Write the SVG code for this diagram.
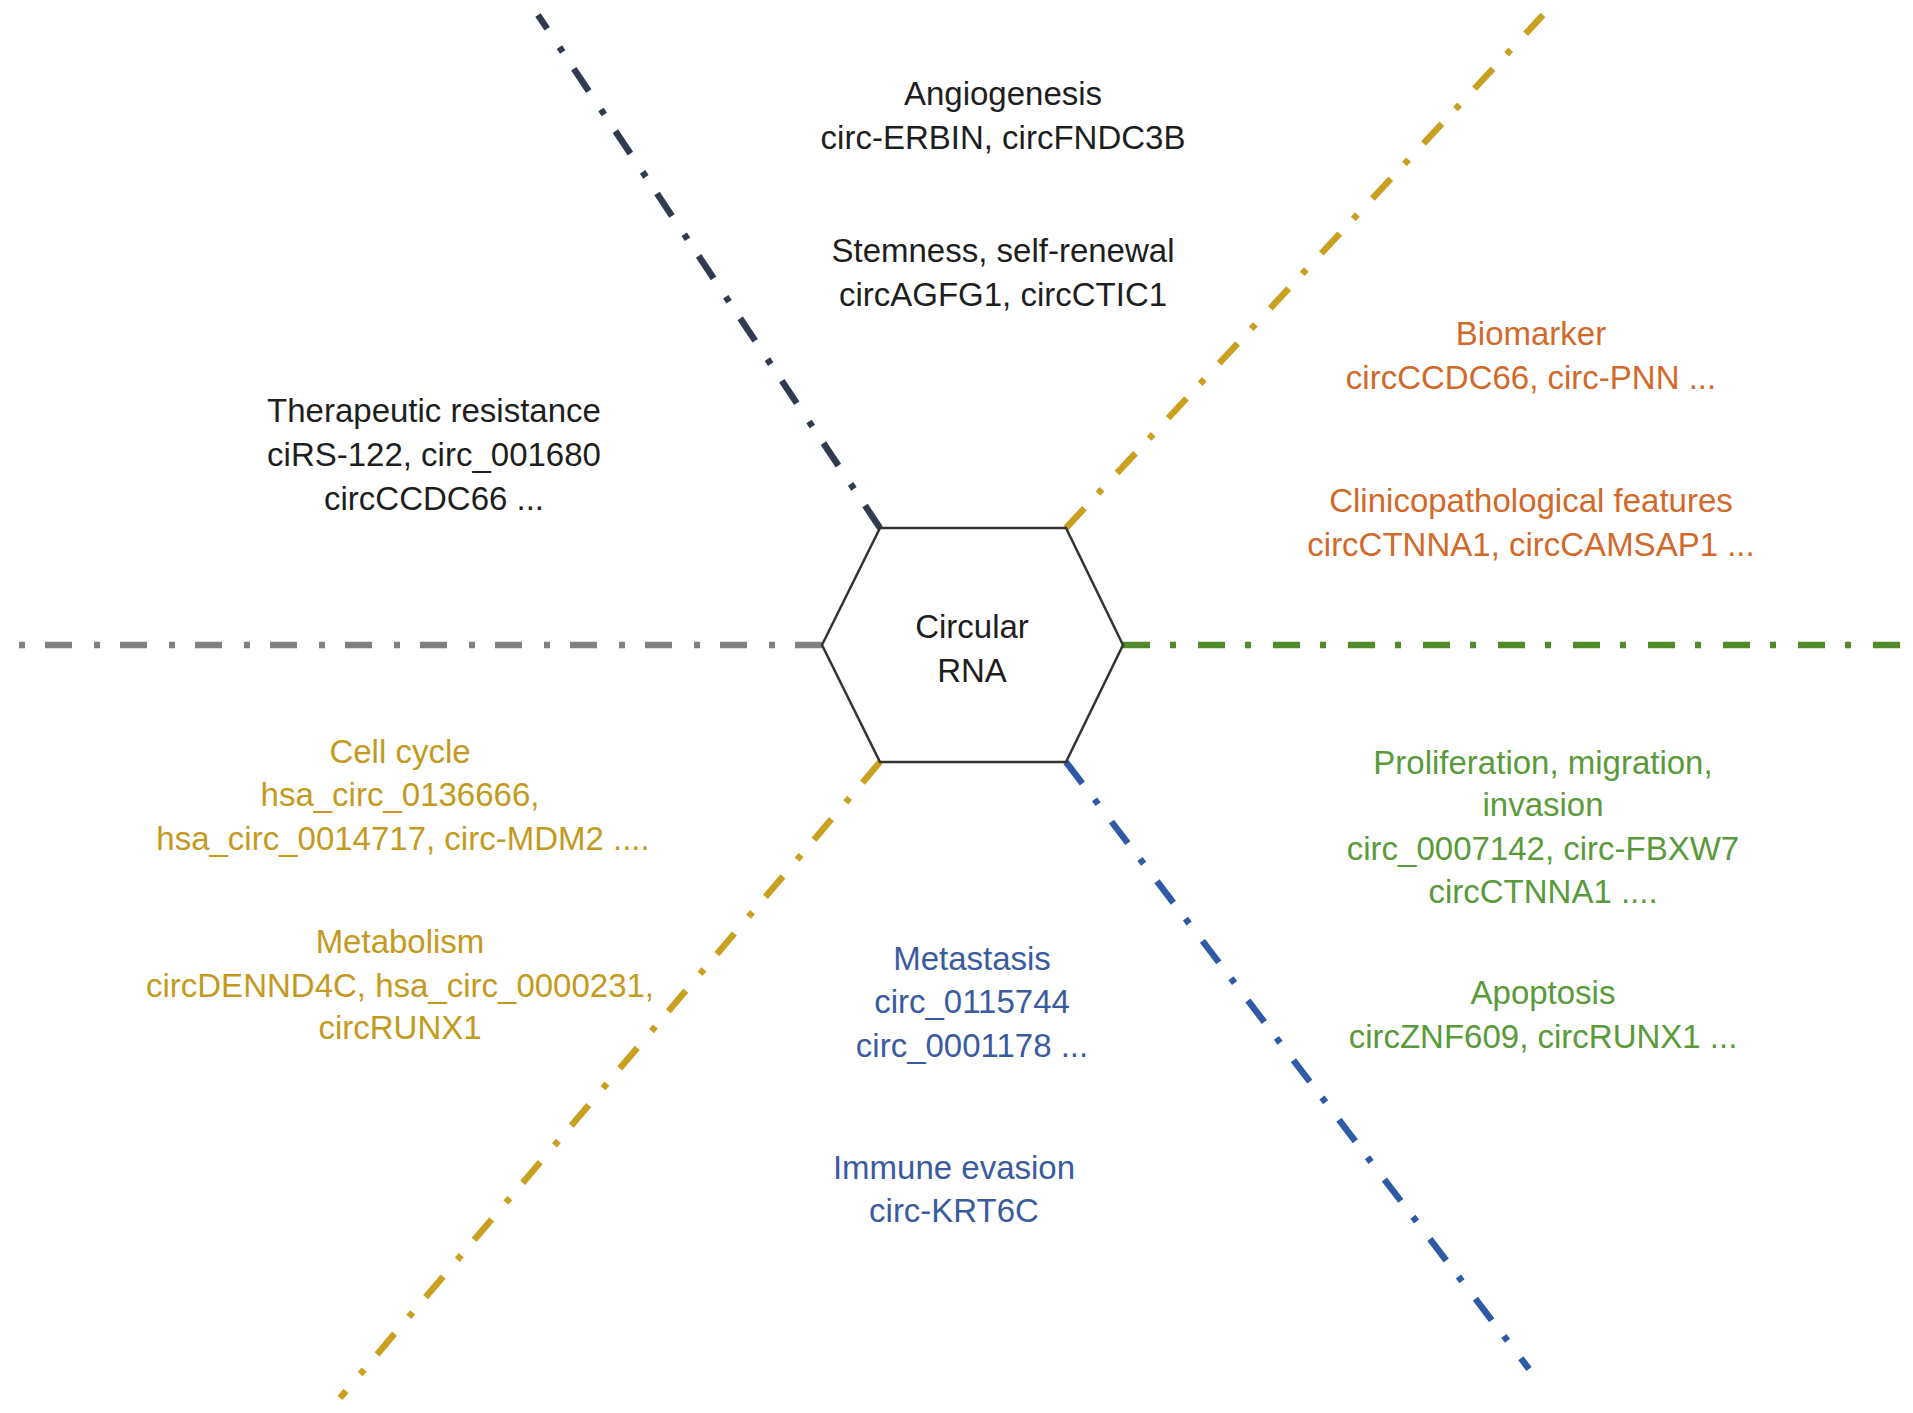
<svg xmlns="http://www.w3.org/2000/svg" width="1913" height="1413" viewBox="0 0 1913 1413">
<style>
.t{font-family:"Liberation Sans",Arial,Helvetica,sans-serif;font-size:33px;text-anchor:middle}
.k{fill:#1e1e1e}.o{fill:#d2692a}.g{fill:#c49a1e}.b{fill:#3a5ba0}.gr{fill:#5a9a3a}
.ln{fill:none;stroke-width:6.5;stroke-dasharray:27 20 6 22}
</style>
<rect width="1913" height="1413" fill="#ffffff"/>
<g id="connectors">
<line class="ln" x1="880" y1="528" x2="538" y2="15" stroke="#2f3b50"/>
<line class="ln" x1="1066" y1="528" x2="1543" y2="15" stroke="#c9a020"/>
<line class="ln" x1="822" y1="645" x2="10" y2="645" stroke="#808080"/>
<line class="ln" x1="1123" y1="645" x2="1903" y2="645" stroke="#4f8a2b"/>
<line class="ln" x1="880" y1="762" x2="340" y2="1398" stroke="#c9a020"/>
<line class="ln" x1="1066" y1="762" x2="1529" y2="1369" stroke="#2f5aa5"/>
</g>
<g id="center">
<polygon points="822,645 880,528 1066,528 1123,645 1066,762 880,762" fill="#ffffff" stroke="#333333" stroke-width="2.5"/>
<text class="t k" x="972" y="638">Circular</text>
<text class="t k" x="972" y="682">RNA</text>
</g>
<g id="angiogenesis">
<text class="t k" x="1003" y="105">Angiogenesis</text>
<text class="t k" x="1003" y="149">circ-ERBIN, circFNDC3B</text>
</g>
<g id="stemness">
<text class="t k" x="1003" y="262">Stemness, self-renewal</text>
<text class="t k" x="1003" y="306">circAGFG1, circCTIC1</text>
</g>
<g id="biomarker">
<text class="t o" x="1531" y="345">Biomarker</text>
<text class="t o" x="1531" y="389">circCCDC66, circ-PNN ...</text>
</g>
<g id="clinicopathological">
<text class="t o" x="1531" y="512">Clinicopathological features</text>
<text class="t o" x="1531" y="556">circCTNNA1, circCAMSAP1 ...</text>
</g>
<g id="therapeutic">
<text class="t k" x="434" y="422">Therapeutic resistance</text>
<text class="t k" x="434" y="466">ciRS-122, circ_001680</text>
<text class="t k" x="434" y="510">circCCDC66 ...</text>
</g>
<g id="cellcycle">
<text class="t g" x="400" y="763">Cell cycle</text>
<text class="t g" x="400" y="806">hsa_circ_0136666,</text>
<text class="t g" x="403" y="850">hsa_circ_0014717, circ-MDM2 ....</text>
</g>
<g id="metabolism">
<text class="t g" x="400" y="953">Metabolism</text>
<text class="t g" x="400" y="997">circDENND4C, hsa_circ_0000231,</text>
<text class="t g" x="400" y="1039">circRUNX1</text>
</g>
<g id="metastasis">
<text class="t b" x="972" y="970">Metastasis</text>
<text class="t b" x="972" y="1013">circ_0115744</text>
<text class="t b" x="972" y="1057">circ_0001178 ...</text>
</g>
<g id="immune">
<text class="t b" x="954" y="1179">Immune evasion</text>
<text class="t b" x="954" y="1222">circ-KRT6C</text>
</g>
<g id="proliferation">
<text class="t gr" x="1543" y="774">Proliferation, migration,</text>
<text class="t gr" x="1543" y="816">invasion</text>
<text class="t gr" x="1543" y="860">circ_0007142, circ-FBXW7</text>
<text class="t gr" x="1543" y="903">circCTNNA1 ....</text>
</g>
<g id="apoptosis">
<text class="t gr" x="1543" y="1004">Apoptosis</text>
<text class="t gr" x="1543" y="1048">circZNF609, circRUNX1 ...</text>
</g>
</svg>
